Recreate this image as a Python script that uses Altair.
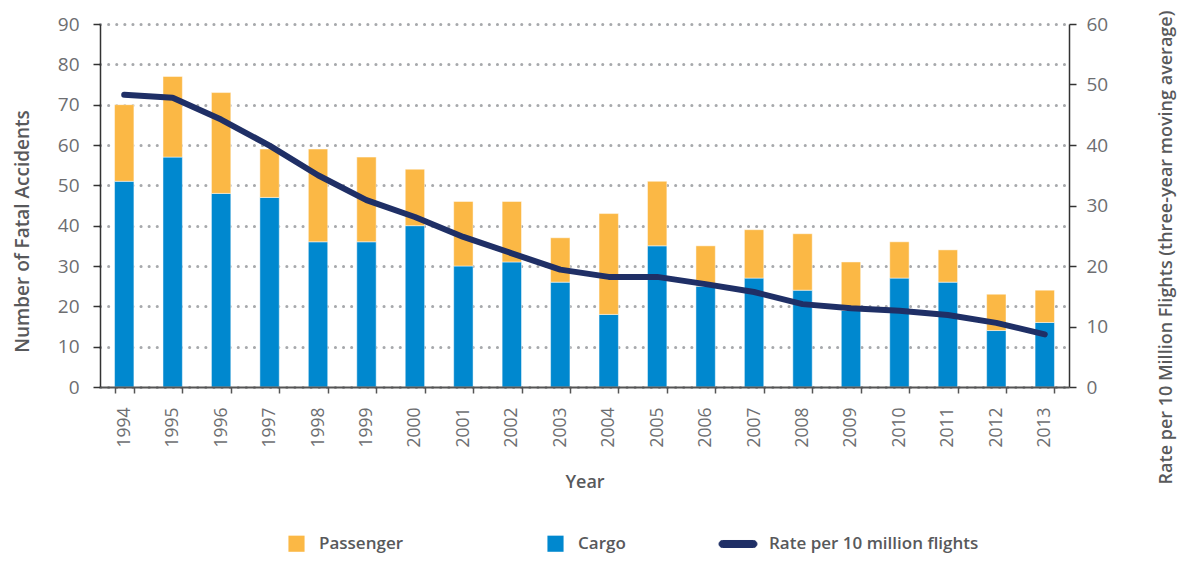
import altair as alt
import pandas as pd

years = [str(y) for y in range(1994, 2014)]
cargo = [51, 57, 48, 47, 36, 36, 40, 30, 31, 26, 18, 35, 25, 27, 24, 19, 27, 26, 14, 16]
passenger = [19, 20, 25, 12, 23, 21, 14, 16, 15, 11, 25, 16, 10, 12, 14, 12, 9, 8, 9, 8]
rate = [48.3, 47.8, 44.2, 39.9, 35.0, 30.9, 28.1, 24.8, 22.1, 19.4,
        18.2, 18.2, 17.0, 15.7, 13.7, 13.0, 12.6, 11.9, 10.6, 8.7]

bar_domain = ["Passenger", "Cargo"]
bar_range = ["#fbb845", "#0088cf"]
line_name = "Rate per 10 million flights"
line_color = "#1f2f66"
left_ticks = list(range(0, 91, 10))
right_ticks = list(range(0, 61, 10))

rows = []
for i, y in enumerate(years):
    rows.append({"Year": y, "Type": "Cargo", "Count": cargo[i], "ord": 0})
    rows.append({"Year": y, "Type": "Passenger", "Count": passenger[i], "ord": 1})
bars_df = pd.DataFrame(rows)
rate_df = pd.DataFrame({"Year": years, "Rate": rate, "Series": [line_name] * len(years)})

LABEL_FONT = "Open Sans"
TITLE_COLOR = "#58595b"
LABEL_COLOR = "#6d6e71"

# rounded capsule used as the legend symbol for the line
CAPSULE = ("M-1.63,-0.37L1.63,-0.37A0.37,0.37 0 0 1 1.63,0.37"
           "L-1.63,0.37A0.37,0.37 0 0 1 -1.63,-0.37Z")

x_enc = alt.X(
    "Year:N",
    scale=alt.Scale(paddingInner=0.6, paddingOuter=0.3),
    axis=alt.Axis(
        title="Year", labelAngle=270, labelFont=LABEL_FONT, labelFontSize=17.5,
        labelColor=LABEL_COLOR, labelPadding=14, tickBand="extent", tickSize=6,
        tickColor="#555555", domainColor="#555555", domainWidth=2, tickWidth=1.5,
        titleFont=LABEL_FONT, titleFontSize=18, titleFontWeight=600,
        titleColor=TITLE_COLOR, titlePadding=26, zindex=1,
    ),
)

legend_common = dict(
    title=None, orient="none", direction="horizontal",
    labelFont=LABEL_FONT, labelFontSize=17, labelFontWeight=600,
    labelColor=TITLE_COLOR, labelLimit=400,
)

bars = alt.Chart(bars_df).mark_bar(
    stroke="#ffffff", strokeWidth=0.8, strokeOpacity=0.6
).encode(
    x=x_enc,
    y=alt.Y(
        "Count:Q", stack="zero",
        scale=alt.Scale(domain=[0, 90], nice=False),
        axis=alt.Axis(
            title="Number of Fatal Accidents", values=left_ticks, grid=True,
            gridDash=[0.1, 8], gridCap="round", gridWidth=3, gridColor="#a7a9ac",
            labelFont=LABEL_FONT, labelFontSize=19, labelColor=LABEL_COLOR,
            labelPadding=14, tickSize=7, tickColor="#333333", tickWidth=1.5,
            domainColor="#333333", domainWidth=1.5,
            titleFont=LABEL_FONT, titleFontSize=19, titleFontWeight=600,
            titleColor=TITLE_COLOR, titlePadding=25, titleY=207,
        ),
    ),
    color=alt.Color(
        "Type:N",
        scale=alt.Scale(domain=bar_domain, range=bar_range),
        legend=alt.Legend(
            legendX=188, legendY=511, columnPadding=143, symbolType="square",
            symbolSize=260, symbolStrokeWidth=0, labelOffset=14, **legend_common,
        ),
    ),
    order=alt.Order("ord:Q", sort="ascending"),
)

line = alt.Chart(rate_df).mark_line(
    strokeWidth=6, strokeCap="round", strokeJoin="round"
).encode(
    x=alt.X("Year:N"),
    y=alt.Y(
        "Rate:Q",
        scale=alt.Scale(domain=[0, 60], nice=False),
        axis=alt.Axis(
            orient="right", title="Rate per 10 Million Flights (three-year moving average)",
            values=right_ticks, grid=False,
            labelFont=LABEL_FONT, labelFontSize=19, labelColor=LABEL_COLOR,
            labelPadding=10, tickSize=7, tickColor="#333333", tickWidth=1.5,
            domainColor="#333333", domainWidth=1.5,
            titleFont=LABEL_FONT, titleFontSize=18, titleFontWeight=600,
            titleColor=TITLE_COLOR, titlePadding=68, titleAngle=270, titleY=223,
        ),
    ),
    stroke=alt.Stroke(
        "Series:N",
        scale=alt.Scale(domain=[line_name], range=[line_color]),
        legend=alt.Legend(
            legendX=628, legendY=510, symbolType=CAPSULE, symbolSize=361,
            symbolStrokeWidth=1, symbolFillColor=line_color, labelOffset=21,
            **legend_common,
        ),
    ),
)

chart = alt.layer(bars, line).resolve_scale(y="independent").properties(
    width=969, height=363,
    autosize=alt.AutoSizeParams(type="none"),
    padding={"left": 92, "top": 16, "right": 108, "bottom": 167},
).configure_view(stroke=None)

chart.save("out.html", embed_options={"renderer": "svg", "actions": False})
